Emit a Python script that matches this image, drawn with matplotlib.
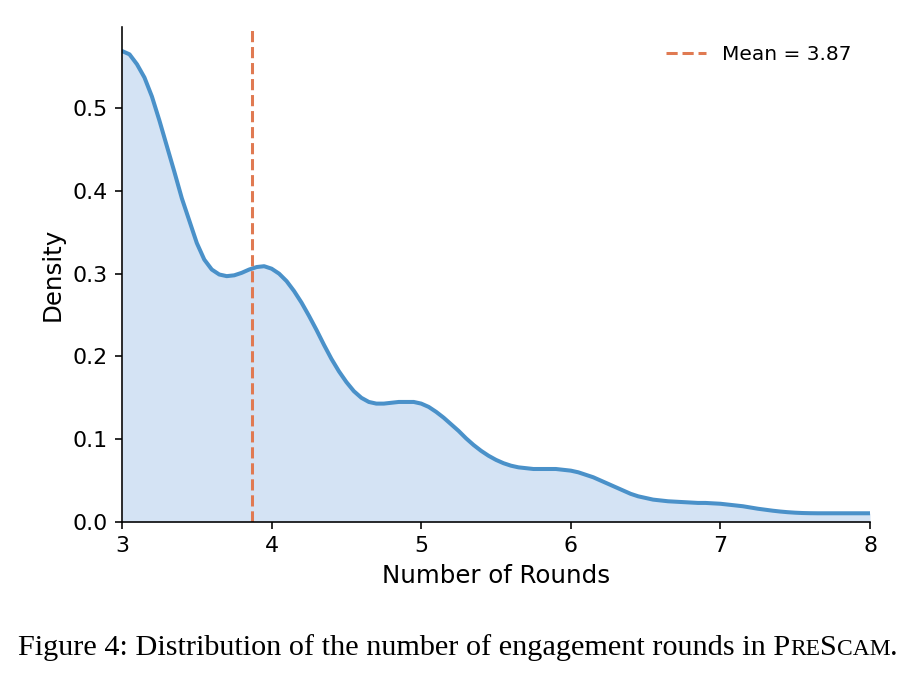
"""Densidad del número de rondas de interacción (figura 4)."""
import numpy as np
import matplotlib
matplotlib.use("Agg")
import matplotlib.pyplot as plt

rounds = np.round(np.arange(3.0, 8.0001, 0.05), 2)
density = [
    0.569, 0.565, 0.553, 0.537, 0.514, 0.485, 0.454, 0.423, 0.391, 0.364,  # 3.00-3.45
    0.337, 0.317, 0.305, 0.299, 0.297, 0.298, 0.301, 0.305, 0.308, 0.309,  # 3.50-3.95
    0.306, 0.300, 0.291, 0.279, 0.265, 0.249, 0.232, 0.214, 0.197, 0.182,  # 4.00-4.45
    0.169, 0.158, 0.150, 0.145, 0.143, 0.143, 0.144, 0.145, 0.145, 0.145,  # 4.50-4.95
    0.143, 0.139, 0.133, 0.126, 0.118, 0.110, 0.101, 0.093, 0.086, 0.080,  # 5.00-5.45
    0.075, 0.071, 0.068, 0.066, 0.065, 0.064, 0.064, 0.064, 0.064, 0.063,  # 5.50-5.95
    0.062, 0.060, 0.057, 0.054, 0.050, 0.046, 0.042, 0.038, 0.034, 0.031,  # 6.00-6.45
    0.029, 0.027, 0.026, 0.025, 0.0245, 0.024, 0.0235, 0.023, 0.023, 0.0225,  # 6.50-6.95
    0.022, 0.021, 0.020, 0.019, 0.0175, 0.016, 0.0148, 0.0136, 0.0126, 0.0118,  # 7.00-7.45
    0.0112, 0.0108, 0.0106, 0.0105, 0.0105, 0.0105, 0.0105, 0.0105, 0.0105, 0.0105,  # 7.50-7.95
    0.0105,  # 8.00
]
mean_rounds = 3.87

caption_parts = [
    ("Figure 4: Distribution of the number of engagement rounds in P", 1.0),
    ("RE", 0.78),
    ("S", 1.0),
    ("CAM", 0.78),
    (".", 1.0),
]

DPI = 145
fig = plt.figure(figsize=(916 / DPI, 677 / DPI), dpi=DPI)
ax = fig.add_axes([0.1332, 0.2290, 0.8166, 0.7311])

ax.fill_between(rounds, density, color="#d4e3f4", linewidth=0)
ax.plot(rounds, density, color="#4a91c9", linewidth=2,
        solid_joinstyle="round", solid_capstyle="round")
ax.axvline(mean_rounds, color="#e07a52", linestyle="--", linewidth=1.5,
           label=f"Mean = {mean_rounds:.2f}")

ax.set_xlim(3, 8)
ax.set_ylim(0, 0.598)
ax.set_xticks([3, 4, 5, 6, 7, 8])
ax.set_yticks([0.0, 0.1, 0.2, 0.3, 0.4, 0.5])
ax.tick_params(labelsize=11)
ax.set_xlabel("Number of Rounds", fontsize=12.2)
ax.set_ylabel("Density", fontsize=12.2)
ax.spines["top"].set_visible(False)
ax.spines["right"].set_visible(False)
ax.legend(loc="upper right", frameon=False, fontsize=10)

# pie de figura con versalitas
cap_size = 15
renderer = fig.canvas.get_renderer()
texts = []
for txt, scale in caption_parts:
    t = fig.text(0, 0.0325, txt, fontsize=cap_size * scale,
                 family="Liberation Serif", va="baseline", ha="left")
    texts.append(t)
widths = [t.get_window_extent(renderer).width for t in texts]
total = sum(widths)
x0 = (fig.bbox.width - total) / 2
for t, w in zip(texts, widths):
    t.set_x(x0 / fig.bbox.width)
    x0 += w

fig.savefig("out.png", dpi=DPI)
